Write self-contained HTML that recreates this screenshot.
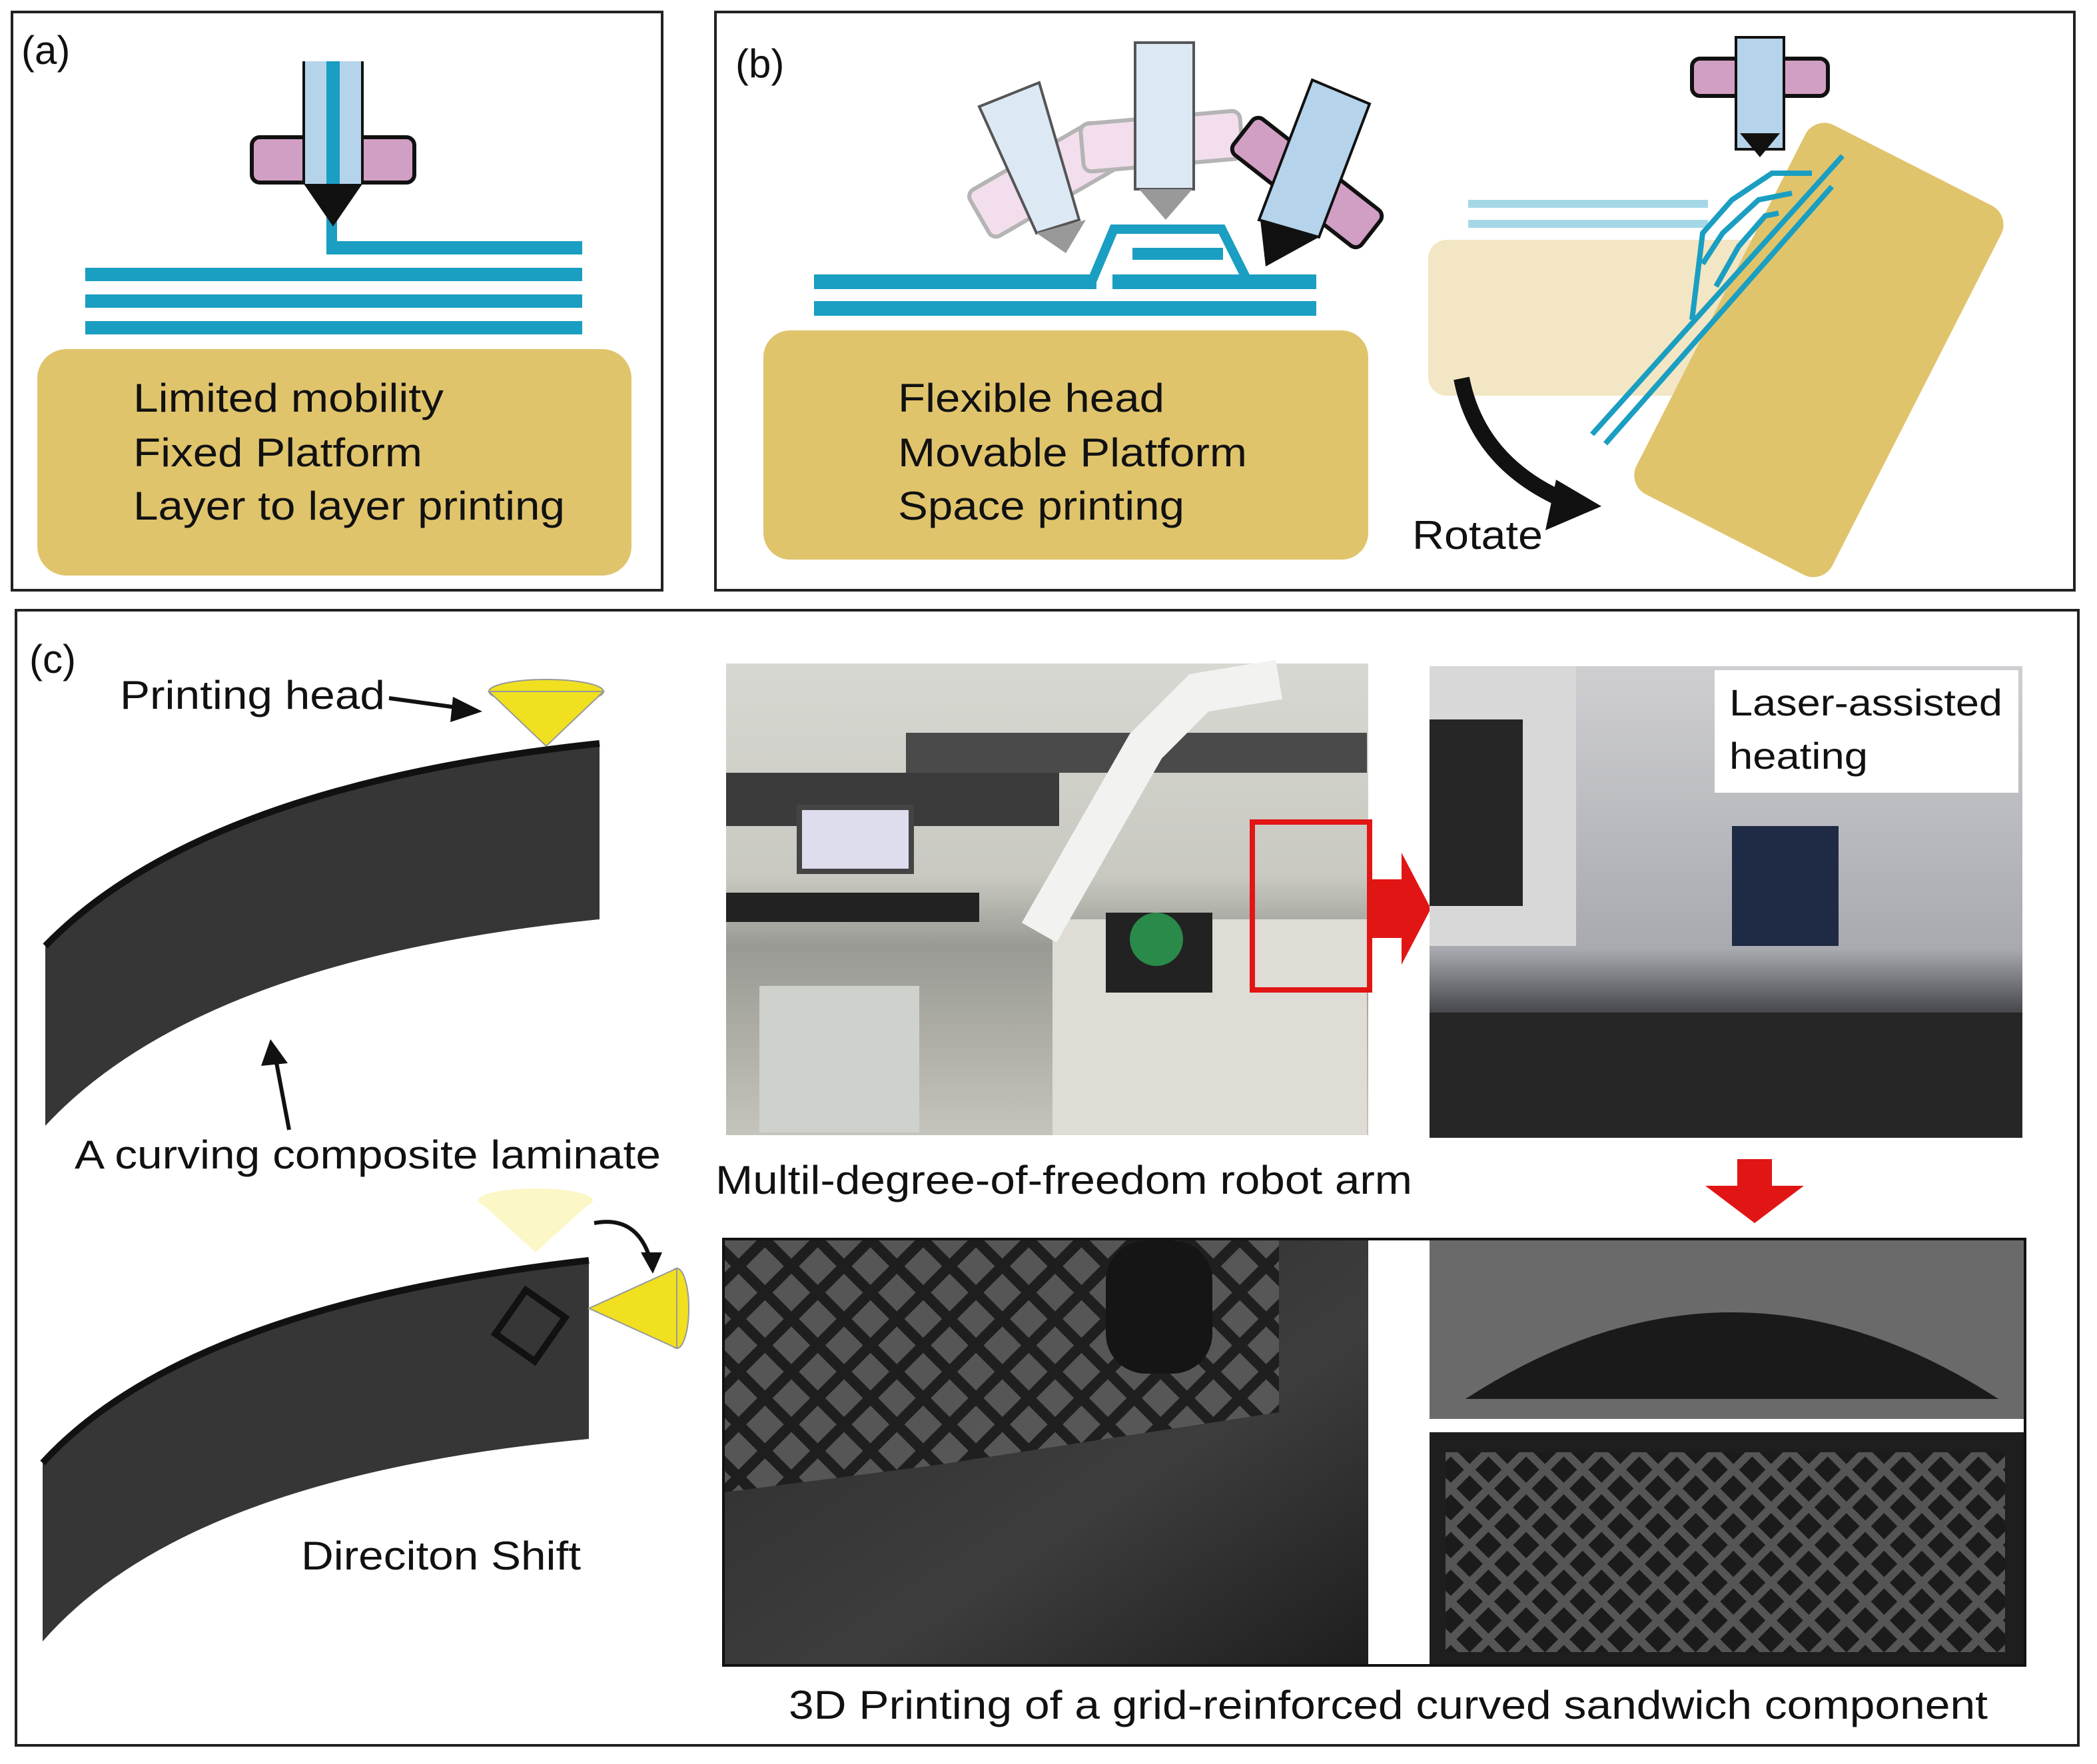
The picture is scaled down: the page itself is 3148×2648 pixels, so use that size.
<!DOCTYPE html>
<html><head><meta charset="utf-8"><style>
html,body{margin:0;padding:0;background:#fff}
svg{display:block}
text{font-family:"Liberation Sans",Arial,sans-serif;fill:#111}
</style></head><body>
<svg width="3148" height="2648" viewBox="0 0 1574 1324" xmlns="http://www.w3.org/2000/svg">
<defs>
<linearGradient id="lab" x1="0" y1="0" x2="0" y2="1"><stop offset="0" stop-color="#d8d8d2"/><stop offset="0.45" stop-color="#c9c9c2"/><stop offset="0.6" stop-color="#9a9a94"/><stop offset="1" stop-color="#c4c4bc"/></linearGradient>
<linearGradient id="las" x1="0" y1="0" x2="0" y2="1"><stop offset="0" stop-color="#cfcfd2"/><stop offset="0.6" stop-color="#a8aab0"/><stop offset="0.75" stop-color="#3a3c40"/><stop offset="1" stop-color="#2a2b2d"/></linearGradient>
<linearGradient id="dk" x1="0" y1="0" x2="1" y2="1"><stop offset="0" stop-color="#2b2b2b"/><stop offset="0.6" stop-color="#3d3d3d"/><stop offset="1" stop-color="#1e1e1e"/></linearGradient>
<pattern id="grid" width="28" height="28" patternUnits="userSpaceOnUse" patternTransform="rotate(45)"><rect width="28" height="28" fill="#1c1c1c"/><rect x="4" y="4" width="20" height="20" fill="#5a5a5a"/></pattern>
<pattern id="grid2" width="20" height="20" patternUnits="userSpaceOnUse" patternTransform="rotate(45)"><rect width="20" height="20" fill="#555"/><rect x="3" y="3" width="14" height="14" fill="#1b1b1b"/></pattern>
</defs>
<rect width="1574" height="1324" fill="#fff"/>
<!-- panel a -->
<rect x="9" y="9" width="488" height="434" fill="none" stroke="#222" stroke-width="2"/>
<text x="16" y="48" font-size="30">(a)</text>
<rect x="28" y="262" width="446" height="170" rx="22" fill="#e0c46c"/>
<text x="100" y="309" font-size="30" textLength="233" lengthAdjust="spacingAndGlyphs">Limited mobility</text>
<text x="100" y="350" font-size="30" textLength="217" lengthAdjust="spacingAndGlyphs">Fixed Platform</text>
<text x="100" y="390" font-size="30" textLength="324" lengthAdjust="spacingAndGlyphs">Layer to layer printing</text>
<g fill="#1a9ec1"><rect x="64" y="201" width="373" height="10"/><rect x="64" y="221" width="373" height="10"/><rect x="64" y="241" width="373" height="10"/><rect x="245" y="181" width="192" height="10"/><rect x="245" y="160" width="8" height="26"/></g>
<rect x="189" y="103" width="122" height="34" rx="6" fill="#d29fc4" stroke="#111" stroke-width="3"/>
<rect x="228" y="46" width="44" height="92" fill="#b5d3ea"/><rect x="245" y="46" width="10" height="92" fill="#1a9ec1"/>
<line x1="228" y1="46" x2="228" y2="138" stroke="#111" stroke-width="2"/><line x1="272" y1="46" x2="272" y2="138" stroke="#111" stroke-width="2"/>
<polygon points="228,138 272,138 250,170" fill="#111"/>
<!-- panel b -->
<rect x="537" y="9" width="1020" height="434" fill="none" stroke="#222" stroke-width="2"/>
<text x="552" y="58" font-size="30">(b)</text>
<rect x="573" y="248" width="454" height="172" rx="20" fill="#e0c46c"/>
<text x="674" y="309" font-size="30" textLength="200" lengthAdjust="spacingAndGlyphs">Flexible head</text>
<text x="674" y="350" font-size="30" textLength="262" lengthAdjust="spacingAndGlyphs">Movable Platform</text>
<text x="674" y="390" font-size="30" textLength="215" lengthAdjust="spacingAndGlyphs">Space printing</text>
<g fill="#1a9ec1"><rect x="611" y="206" width="212" height="11"/><rect x="835" y="206" width="153" height="11"/><rect x="611" y="226" width="377" height="11"/><rect x="850" y="186" width="68" height="9"/></g>
<path d="M820 210 L836 172 L917 172 L936 210" fill="none" stroke="#1a9ec1" stroke-width="7"/>
<g opacity="0.55"><rect x="728" y="115" width="110" height="40" rx="6" transform="rotate(-30 783 135)" fill="#e8c4dd" stroke="#777" stroke-width="3"/><rect x="812" y="88" width="120" height="36" rx="6" transform="rotate(-5 872 106)" fill="#e8c4dd" stroke="#777" stroke-width="3"/></g>
<polygon points="735,80 780,62 810,165 778,175" fill="#dce9f5" stroke="#555" stroke-width="2"/>
<polygon points="778,175 815,165 800,190" fill="#999"/>
<rect x="852" y="32" width="44" height="110" fill="#dce9f5" stroke="#555" stroke-width="2"/>
<polygon points="855,142 895,142 875,165" fill="#999"/>
<rect x="920" y="120" width="122" height="34" rx="6" transform="rotate(38 981 137)" fill="#d29fc4" stroke="#111" stroke-width="3"/>
<polygon points="985,60 1028,78 990,178 945,165" fill="#b5d3ea" stroke="#111" stroke-width="2"/>
<polygon points="946,165 990,178 950,200" fill="#111"/>
<!-- rotate part -->
<rect x="1072" y="180" width="370" height="117" rx="14" fill="#f2e6c4"/>
<g fill="#a5d8e6"><rect x="1102" y="150" width="180" height="6"/><rect x="1102" y="165" width="180" height="6"/></g>
<rect x="1270" y="44" width="102" height="28" rx="6" fill="#d29fc4" stroke="#111" stroke-width="3"/>
<rect x="1303" y="28" width="36" height="84" fill="#b5d3ea" stroke="#111" stroke-width="2"/>
<polygon points="1306,100 1336,100 1321,118" fill="#111"/>
<rect x="1283" y="107" width="165" height="311" rx="16" transform="rotate(27 1365 262)" fill="#e0c46c"/>
<path d="M1195 326 L1383 117 M1205 333 L1375 140" stroke="#1a9ec1" stroke-width="4" fill="none"/>
<path d="M1270 240 L1278 175 L1300 150 L1330 130 L1360 130 M1278 198 L1293 175 L1320 150 L1345 145 M1288 215 L1305 185 L1325 162 L1335 160" stroke="#1a9ec1" stroke-width="4" fill="none"/>
<path d="M1097 284 Q1110 350 1180 378" stroke="#111" stroke-width="12" fill="none"/>
<polygon points="1168,360 1202,380 1160,398" fill="#111"/>
<text x="1060" y="412" font-size="30" textLength="98" lengthAdjust="spacingAndGlyphs">Rotate</text>
<!-- panel c -->
<rect x="12" y="458" width="1548" height="852" fill="none" stroke="#222" stroke-width="2"/>
<text x="22" y="505" font-size="30">(c)</text>
<text x="90" y="532" font-size="30" textLength="199" lengthAdjust="spacingAndGlyphs">Printing head</text>
<line x1="292" y1="524" x2="350" y2="532" stroke="#111" stroke-width="3"/><polygon points="362,534 340,523 338,542" fill="#111"/>
<ellipse cx="410" cy="519" rx="43" ry="9" fill="#f0e020" stroke="#999"/><polygon points="367,519 453,519 410,560" fill="#f0e020" stroke="#999"/>
<path d="M34 710 Q150 590 450 558 L450 690 Q150 720 34 845 Z" fill="#363636"/>
<path d="M34 710 Q150 590 450 558" stroke="#111" stroke-width="5" fill="none"/>
<line x1="217" y1="848" x2="207" y2="795" stroke="#111" stroke-width="3"/><polygon points="203,780 196,800 216,798" fill="#111"/>
<text x="56" y="877" font-size="30" textLength="440" lengthAdjust="spacingAndGlyphs">A curving composite laminate</text>
<g opacity="0.25"><ellipse cx="402" cy="901" rx="43" ry="9" fill="#f0e020"/><polygon points="359,901 445,901 402,940" fill="#f0e020"/></g>
<path d="M32 1098 Q140 980 442 946 L442 1080 Q140 1108 32 1232 Z" fill="#363636"/>
<path d="M32 1098 Q140 980 442 946" stroke="#111" stroke-width="5" fill="none"/>
<rect x="380" y="975" width="36" height="40" transform="rotate(35 398 995)" fill="none" stroke="#111" stroke-width="5"/>
<path d="M446 918 Q478 912 488 945" stroke="#111" stroke-width="3" fill="none"/><polygon points="490,956 481,940 497,940" fill="#111"/>
<ellipse cx="508" cy="982" rx="9" ry="30" fill="#f0e020" stroke="#999"/><polygon points="508,952 508,1012 442,982" fill="#f0e020" stroke="#999"/>
<text x="226" y="1178" font-size="30" textLength="210" lengthAdjust="spacingAndGlyphs">Direciton Shift</text>
<!-- photos -->
<rect x="545" y="498" width="482" height="354" fill="url(#lab)"/>
<rect x="545" y="580" width="250" height="40" fill="#3b3b3b"/><rect x="680" y="550" width="346" height="30" fill="#4a4a4a"/>
<rect x="598" y="604" width="88" height="52" fill="#444"/><rect x="602" y="608" width="80" height="44" fill="#dde"/>
<rect x="545" y="670" width="190" height="22" fill="#222"/>
<rect x="570" y="740" width="120" height="110" fill="#cfd1cc"/>
<rect x="790" y="690" width="236" height="162" fill="#dedcd5"/>
<path d="M780 700 L860 560 L900 520 L960 510" stroke="#f2f2f0" stroke-width="30" fill="none"/>
<rect x="830" y="685" width="80" height="60" fill="#222"/><circle cx="868" cy="705" r="20" fill="#2a8a4a"/>
<rect x="940" y="617" width="88" height="126" fill="none" stroke="#e21515" stroke-width="4"/>
<polygon points="1030,660 1052,660 1052,640 1074,682 1052,724 1052,704 1030,704" fill="#e21515"/>
<rect x="1073" y="500" width="445" height="354" fill="url(#las)"/>
<rect x="1073" y="500" width="110" height="210" fill="#d8d8d8"/><rect x="1073" y="540" width="70" height="140" fill="#262626"/>
<rect x="1300" y="620" width="80" height="90" fill="#1f2a44"/>
<rect x="1073" y="760" width="445" height="94" fill="#262626"/>
<rect x="1287" y="503" width="228" height="92" fill="#fff"/>
<text x="1298" y="537" font-size="28" textLength="205" lengthAdjust="spacingAndGlyphs">Laser-assisted</text>
<text x="1298" y="577" font-size="28" textLength="104" lengthAdjust="spacingAndGlyphs">heating</text>
<text x="537" y="896" font-size="30" textLength="523" lengthAdjust="spacingAndGlyphs">Multil-degree-of-freedom robot arm</text>
<polygon points="1304,870 1330,870 1330,890 1354,890 1317,918 1280,890 1304,890" fill="#e21515"/>
<rect x="543" y="930" width="977" height="320" fill="none" stroke="#111" stroke-width="2"/>
<rect x="544" y="931" width="483" height="318" fill="url(#dk)"/>
<path d="M544 931 L960 931 L960 1060 L700 1100 L544 1120 Z" fill="url(#grid)" opacity="0.9"/>
<rect x="830" y="931" width="80" height="100" rx="30" fill="#151515"/>
<rect x="1073" y="931" width="446" height="134" fill="#6a6a6a"/>
<path d="M1100 1050 Q1300 920 1500 1050 Z" fill="#1a1a1a"/>
<rect x="1073" y="1075" width="446" height="174" fill="#1e1e1e"/>
<rect x="1085" y="1090" width="420" height="150" fill="url(#grid2)"/>
<text x="592" y="1290" font-size="30" textLength="900" lengthAdjust="spacingAndGlyphs">3D Printing of a grid-reinforced curved sandwich component</text>
</svg>
</body></html>
